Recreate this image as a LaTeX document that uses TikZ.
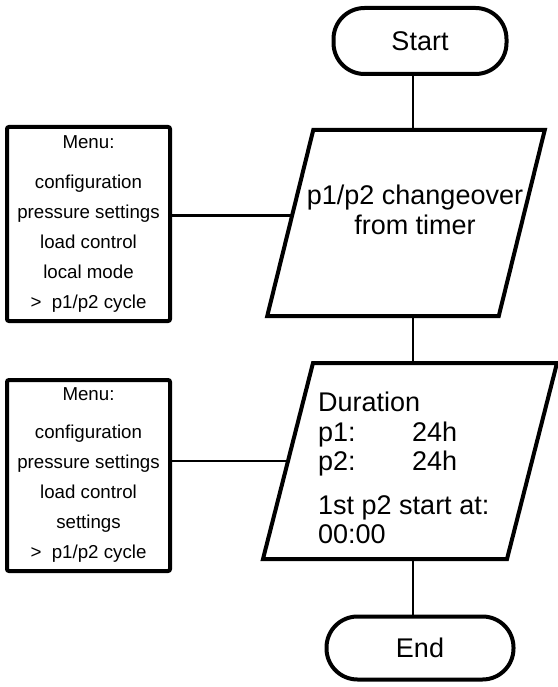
\documentclass[tikz,border=0pt]{standalone}
\usepackage{fontspec}
\setmainfont{Liberation Sans}
\usepackage{tikz}
\usetikzlibrary{positioning, calc}

\begin{document}
\begin{tikzpicture}[
    x=1pt, y=-1pt,
    every node/.style={align=center},
    terminal/.style={rectangle, draw, line width=4pt, rounded corners=31pt, font=\fontsize{27}{30}\selectfont},
    menubox/.style={rectangle, draw, line width=4pt, rounded corners=2pt, minimum width=163pt, font=\fontsize{18.7}{30}\selectfont},
    iobody/.style={rectangle, inner sep=0pt, outer sep=0pt},
    ioline/.style={line width=4pt, line join=miter},
    bigtext/.style={font=\fontsize{27}{29.5}\selectfont, inner sep=0pt},
    conn/.style={line width=2.2pt}
]
    \useasboundingbox (0,0) rectangle (557,687);

    \node[terminal, minimum width=173pt, minimum height=66pt] (start) at (420,41) {Start};

    % first data box
    \node[iobody, minimum width=231.5pt, minimum height=186pt] (p1) at (406,223) {};
    \coordinate (p1tl) at ([xshift=23pt]p1.north west);
    \coordinate (p1tr) at ([xshift=23pt]p1.north east);
    \coordinate (p1br) at ([xshift=-23pt]p1.south east);
    \coordinate (p1bl) at ([xshift=-23pt]p1.south west);
    \draw[ioline] (p1tl) -- (p1tr) -- (p1br) -- (p1bl) -- cycle;
    \node[bigtext] (p1text) at (415,210) {p1/p2 changeover\\from timer};

    % second data box
    \node[iobody, minimum width=244pt, minimum height=196pt] (p2) at (410,461) {};
    \coordinate (p2tl) at ([xshift=25pt]p2.north west);
    \coordinate (p2tr) at ([xshift=25pt]p2.north east);
    \coordinate (p2br) at ([xshift=-25pt]p2.south east);
    \coordinate (p2bl) at ([xshift=-25pt]p2.south west);
    \draw[ioline] (p2tl) -- (p2tr) -- (p2br) -- (p2bl) -- cycle;
    \node[bigtext, anchor=north west, align=left] (p2text) at (318,392) {Duration\\\makebox[94pt][l]{p1:}24h\\\makebox[94pt][l]{p2:}24h\\[14pt]1st p2 start at:\\00:00};

    \node[terminal, minimum width=187pt, minimum height=63pt] (end) at (420,648) {End};

    \node[menubox, minimum height=194pt] (menu1) at (88.5,224) {Menu:\\[10pt]configuration\\pressure settings\\load control\\local mode\\>\ \ p1/p2 cycle};
    \node[menubox, minimum height=191pt] (menu2) at (88.5,475.5) {Menu:\\[8pt]configuration\\pressure settings\\load control\\settings\\>\ \ p1/p2 cycle};

    % vertical flow and the menu links
    \coordinate (spine) at (413,0);
    \coordinate (m1) at ($(p1tl)!0.46!(p1bl)$);
    \coordinate (m2) at ($(p2tl)!0.5!(p2bl)$);
    \draw[conn] (start.south -| spine) -- (p1.north -| spine);
    \draw[conn] (p1.south -| spine) -- (p2.north -| spine);
    \draw[conn] (p2.south -| spine) -- (end.north -| spine);
    \draw[conn] (menu1.east |- m1) -- (m1);
    \draw[conn] (menu2.east |- m2) -- (m2);
\end{tikzpicture}
\end{document}
